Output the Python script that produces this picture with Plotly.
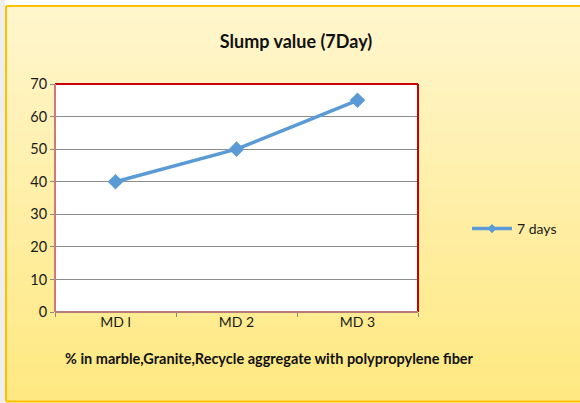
import plotly.graph_objects as go

categories = ["MD l", "MD 2", "MD 3"]
values_7days = [40, 50, 65]
series_name = "7 days"
title_text = "Slump value (7Day)"
x_title_text = "% in marble,Granite,Recycle aggregate with polypropylene fiber"

W, H = 580, 403
L, R, T, B = 55, 418, 84, 312  # plot area pixel edges

def px(x):
    return (x - L) / (R - L)

def py(y):
    return (B - y) / (B - T)

shapes = []
# gray left strip
shapes.append(dict(type="rect", xref="paper", yref="paper", x0=px(0), x1=px(5), y0=py(H), y1=py(0),
                   fillcolor="#EEEEEE", line=dict(width=0), layer="below"))
# gradient background
top_c = (255, 246, 206)
bot_c = (255, 232, 128)
y_start, y_end = 6, 402
n = 60
for i in range(n):
    ya = y_start + (y_end - y_start) * i / n
    yb = y_start + (y_end - y_start) * (i + 1) / n
    f = (i + 0.5) / n
    c = tuple(round(top_c[k] + (bot_c[k] - top_c[k]) * f) for k in range(3))
    shapes.append(dict(type="rect", xref="paper", yref="paper", x0=px(6), x1=px(W + 2),
                       y0=py(yb + 0.5), y1=py(ya), fillcolor="rgb(%d,%d,%d)" % c,
                       line=dict(width=0), layer="below"))
# orange frame
shapes.append(dict(type="line", xref="paper", yref="paper", x0=px(6), x1=px(6), y0=py(401.5), y1=py(6),
                   line=dict(color="#FFC000", width=2), layer="below"))
shapes.append(dict(type="line", xref="paper", yref="paper", x0=px(6), x1=px(W + 2), y0=py(6), y1=py(6),
                   line=dict(color="#FFC000", width=2), layer="below"))
shapes.append(dict(type="line", xref="paper", yref="paper", x0=px(6), x1=px(W + 2), y0=py(401.5), y1=py(401.5),
                   line=dict(color="#FFC000", width=2), layer="below"))
# white plot area
shapes.append(dict(type="rect", xref="paper", yref="paper", x0=0, x1=1, y0=0, y1=1,
                   fillcolor="white", line=dict(width=0), layer="below"))
# red border top/right, blended left/bottom
shapes.append(dict(type="line", xref="paper", yref="paper", x0=0, x1=1, y0=1, y1=1,
                   line=dict(color="#CC0000", width=2), layer="above"))
shapes.append(dict(type="line", xref="paper", yref="paper", x0=1, x1=1, y0=0, y1=1,
                   line=dict(color="#CC0000", width=2), layer="above"))
shapes.append(dict(type="line", xref="paper", yref="paper", x0=0, x1=0, y0=0, y1=1,
                   line=dict(color="#D07878", width=2), layer="above"))
shapes.append(dict(type="line", xref="paper", yref="paper", x0=0, x1=1, y0=0, y1=0,
                   line=dict(color="#B87A7A", width=2), layer="above"))

fig = go.Figure()
fig.add_trace(go.Scatter(
    x=categories, y=values_7days, name=series_name, mode="lines+markers",
    line=dict(color="#5B9BD5", width=3.5),
    marker=dict(symbol="diamond", size=12, color="#5B9BD5"),
    showlegend=False,
))
# legend entry with a small marker, as in the reference
fig.add_trace(go.Scatter(
    x=[None], y=[None], name=series_name, mode="lines+markers",
    line=dict(color="#5B9BD5", width=3.5),
    marker=dict(symbol="diamond", size=7, color="#5B9BD5"),
    showlegend=True,
))

font_family = "Lato, 'Open Sans', sans-serif"
fig.update_layout(
    width=W, height=H,
    margin=dict(l=L, r=W - R, t=T, b=H - B),
    paper_bgcolor="white", plot_bgcolor="white",
    font=dict(family=font_family, color="#1a1a1a", size=14),
    title=dict(text="<b>" + title_text + "</b>", x=296 / W, xanchor="center",
               y=1 - 42 / H, yanchor="middle", font=dict(size=18, color="#111")),
    showlegend=True,
    legend=dict(x=px(467), y=py(229), xanchor="left", yanchor="middle",
                bgcolor="rgba(0,0,0,0)", font=dict(size=14), itemwidth=40),
    shapes=shapes,
    annotations=[dict(text="<b>" + x_title_text + "</b>", xref="paper", yref="paper",
                      x=px(63), y=py(358), xanchor="left", yanchor="middle",
                      showarrow=False, font=dict(size=14.5, color="#111"))],
)
fig.update_xaxes(
    range=[-0.5, 2.5], tickson="boundaries", ticks="outside", ticklen=4,
    tickcolor="#888", showgrid=False, showline=False, zeroline=False,
    tickfont=dict(size=14),
)
fig.update_yaxes(
    range=[0, 70], dtick=10, ticks="outside", ticklen=4, tickcolor="#888",
    showgrid=True, gridcolor="#8C8C8C", gridwidth=1, zeroline=False, showline=False,
    tickfont=dict(size=14.5),
)
fig.write_html("out.html", config={"displayModeBar": False},
               post_script="document.body.style.margin='0';document.body.style.overflow='hidden';")
